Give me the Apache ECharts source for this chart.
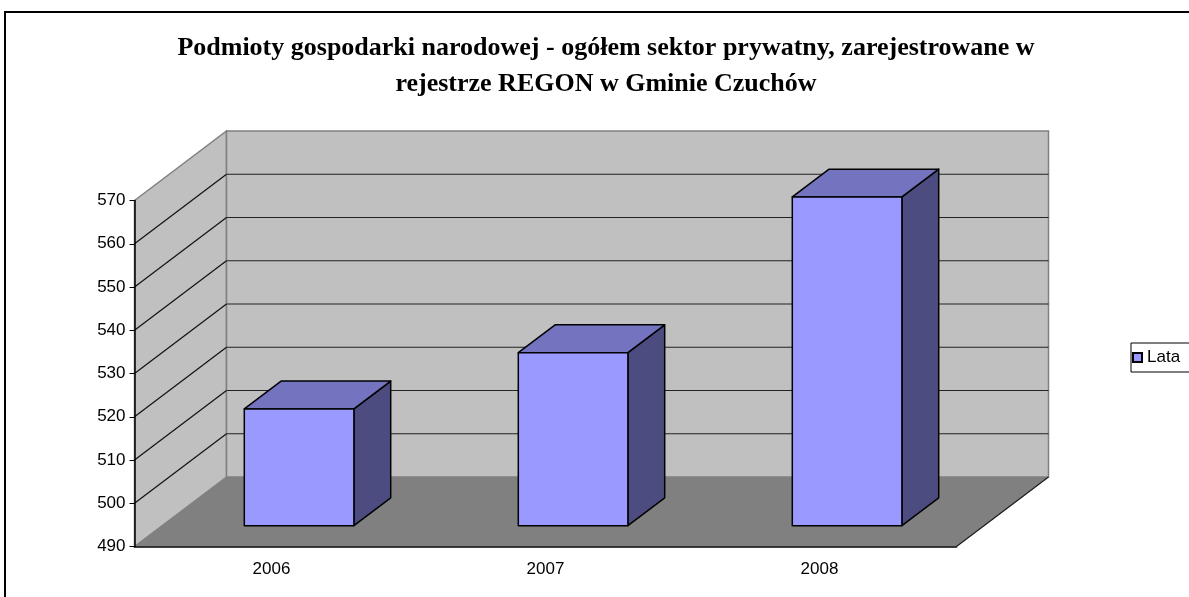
<!DOCTYPE html>
<html>
<head>
<meta charset="utf-8">
<script src="https://cdn.jsdelivr.net/npm/echarts@6/dist/echarts.min.js"></script>
<style>
  html, body { margin: 0; padding: 0; background: #fff; }
  #chart { width: 1189px; height: 597px; }
</style>
</head>
<body>
<div id="chart"></div>
<script>
// data
var years = ['2006', '2007', '2008'];
var counts = [517, 530, 566];
var gridValues = [500, 510, 520, 530, 540, 550, 560];
var yMin = 490, yMax = 570;

// oblique depth of the 3D box (pixels)
var DX = 92, DY = -69.5;

var myChart = echarts.init(document.getElementById('chart'));

function renderWalls(params, api) {
    var cs = params.coordSys,
        x0 = cs.x, x1 = cs.x + cs.width,
        yTop = api.coord([0, yMax])[1],
        yBot = api.coord([0, yMin])[1];
    return {
        type: 'group',
        children: [
            {
                type: 'polygon',
                shape: { points: [[x0, yTop], [x0 + DX, yTop + DY], [x0 + DX, yBot + DY], [x0, yBot]] },
                style: { fill: '#c0c0c0', stroke: '#808080', lineWidth: 1.5 }
            },
            {
                type: 'polygon',
                shape: { points: [[x0 + DX, yTop + DY], [x1 + DX, yTop + DY], [x1 + DX, yBot + DY], [x0 + DX, yBot + DY]] },
                style: { fill: '#c0c0c0', stroke: '#808080', lineWidth: 1.5 }
            },
            {
                type: 'polygon',
                shape: { points: [[x0, yBot], [x1, yBot], [x1 + DX, yBot + DY], [x0 + DX, yBot + DY]] },
                style: { fill: '#808080' }
            },
            {
                type: 'line',
                shape: { x1: x1, y1: yBot, x2: x1 + DX, y2: yBot + DY },
                style: { stroke: '#1a1a1a', lineWidth: 1.2 }
            }
        ]
    };
}

function renderGrid(params, api) {
    var cs = params.coordSys,
        x0 = cs.x, x1 = cs.x + cs.width,
        y = api.coord([0, api.value(1)])[1];
    return {
        type: 'group',
        children: [
            {
                type: 'line',
                shape: { x1: x0, y1: y, x2: x0 + DX, y2: y + DY },
                style: { stroke: '#111', lineWidth: 1.2 }
            },
            {
                type: 'line',
                shape: { x1: x0 + DX, y1: y + DY, x2: x1 + DX, y2: y + DY },
                style: { stroke: '#222', lineWidth: 1.2 }
            }
        ]
    };
}

function renderBar(params, api) {
    var c = api.coord([api.value(0), yMin]),
        top = api.coord([api.value(0), api.value(1)])[1],
        hw = api.size([1, 0])[0] * 0.2,
        z0 = 0.3, dz = 0.4,
        xl = c[0] - hw + z0 * DX,
        xr = c[0] + hw + z0 * DX,
        yt = top + z0 * DY,
        yb = c[1] + z0 * DY,
        ox = dz * DX, oy = dz * DY,
        line = { stroke: '#000', lineWidth: 1.5, lineJoin: 'round' };
    return {
        type: 'group',
        children: [
            {
                type: 'polygon',
                shape: { points: [[xr, yt], [xr + ox, yt + oy], [xr + ox, yb + oy], [xr, yb]] },
                style: echarts.util.extend({ fill: '#4c4c80' }, line)
            },
            {
                type: 'polygon',
                shape: { points: [[xl, yt], [xr, yt], [xr + ox, yt + oy], [xl + ox, yt + oy]] },
                style: echarts.util.extend({ fill: '#7373bf' }, line)
            },
            {
                type: 'rect',
                shape: { x: xl, y: yt, width: xr - xl, height: yb - yt },
                style: echarts.util.extend({ fill: '#9999ff' }, line)
            }
        ]
    };
}

var option = {
    backgroundColor: '#fff',
    animation: false,
    textStyle: { fontFamily: 'Liberation Sans, Arial, sans-serif' },
    title: {
        text: 'Podmioty gospodarki narodowej - ogółem sektor prywatny, zarejestrowane w\nrejestrze REGON w Gminie Czuchów',
        left: 606,
        top: 30,
        padding: 0,
        textAlign: 'center',
        textStyle: {
            fontFamily: 'Liberation Serif, Times New Roman, serif',
            fontWeight: 'bold',
            fontSize: 26,
            lineHeight: 36,
            color: '#000'
        }
    },
    legend: {
        data: [{ name: 'Lata', icon: 'rect' }],
        left: 1131,
        top: 343,
        padding: [6, 12, 6, 1],
        itemWidth: 9,
        itemHeight: 9,
        borderColor: '#000',
        borderWidth: 1,
        backgroundColor: '#fff',
        textStyle: { fontSize: 17, color: '#000' }
    },
    graphic: [
        {
            type: 'rect',
            shape: { x: 5, y: 12, width: 1300, height: 700 },
            style: { fill: 'none', stroke: '#000', lineWidth: 2 }
        }
    ],
    grid: {
        left: 134.5,
        top: 200.5,
        width: 822,
        height: 346
    },
    xAxis: {
        type: 'category',
        data: years,
        z: 10,
        axisLine: { lineStyle: { color: '#000', width: 1.5 } },
        axisTick: { length: 6, lineStyle: { color: '#555' } },
        axisLabel: { fontSize: 17, color: '#000', margin: 14 }
    },
    yAxis: {
        type: 'value',
        min: yMin,
        max: yMax,
        interval: 10,
        z: 10,
        axisLine: { show: true, lineStyle: { color: '#000', width: 1.5 } },
        axisTick: { show: true, length: 5, lineStyle: { color: '#000' } },
        axisLabel: { fontSize: 17, color: '#000', margin: 9 },
        splitLine: { show: false }
    },
    series: [
        {
            type: 'custom',
            name: 'walls',
            z: 1,
            silent: true,
            renderItem: renderWalls,
            data: [[0, yMin]]
        },
        {
            type: 'custom',
            name: 'grid',
            z: 2,
            silent: true,
            renderItem: renderGrid,
            data: gridValues.map(function (v) { return [0, v]; })
        },
        {
            type: 'custom',
            name: 'Lata',
            z: 3,
            renderItem: renderBar,
            itemStyle: { color: '#9999ff', borderColor: '#000', borderWidth: 1 },
            data: years.map(function (y, i) { return [i, counts[i]]; })
        }
    ]
};
myChart.setOption(option);
</script>
</body>
</html>
